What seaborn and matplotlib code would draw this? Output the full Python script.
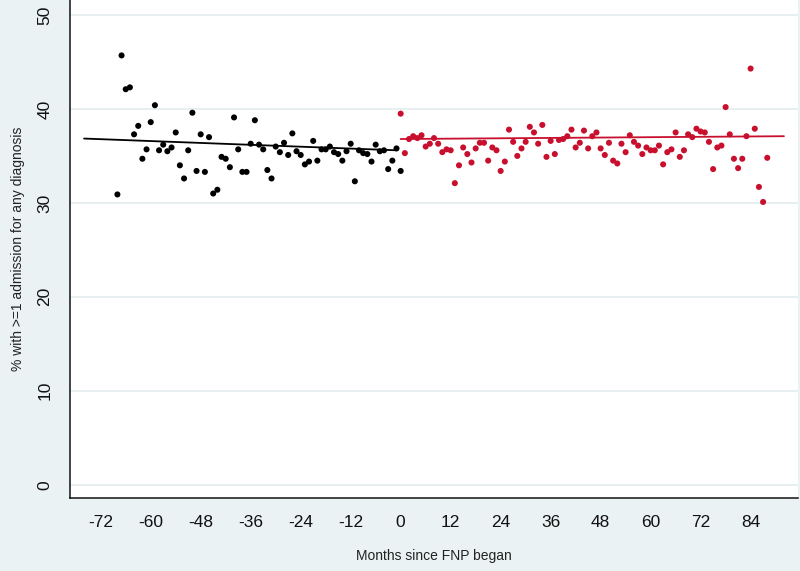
import numpy as np
import pandas as pd
import matplotlib
matplotlib.use("Agg")
import matplotlib.pyplot as plt
import seaborn as sns

# ── data ──────────────────────────────────────────────────────
pre_months = list(range(-68, 1))
pre_pct = [30.9, 45.7, 42.1, 42.3, 37.3, 38.2, 34.7, 35.7, 38.6, 40.4,
           35.6, 36.2, 35.5, 35.9, 37.5, 34.0, 32.6, 35.6, 39.6, 33.4,
           37.3, 33.3, 37.0, 31.0, 31.4, 34.9, 34.7, 33.8, 39.1, 35.7,
           33.3, 33.3, 36.3, 38.8, 36.2, 35.7, 33.5, 32.6, 36.0, 35.4,
           36.4, 35.1, 37.4, 35.5, 35.1, 34.1, 34.4, 36.6, 34.5, 35.7,
           35.7, 36.0, 35.4, 35.2, 34.5, 35.5, 36.3, 32.3, 35.6, 35.3,
           35.2, 34.4, 36.2, 35.5, 35.6, 33.6, 34.5, 35.8, 33.4]

post_months = list(range(0, 89))
post_pct = [39.5, 35.3, 36.8, 37.1, 36.9, 37.2, 36.0, 36.3, 36.9, 36.3,
            35.4, 35.7, 35.6, 32.1, 34.0, 35.9, 35.2, 34.3, 35.8, 36.4,
            36.4, 34.5, 35.9, 35.6, 33.4, 34.4, 37.8, 36.5, 35.0, 35.8,
            36.5, 38.1, 37.5, 36.3, 38.3, 34.9, 36.6, 35.2, 36.7, 36.8,
            37.1, 37.8, 35.9, 36.4, 37.7, 35.8, 37.1, 37.5, 35.8, 35.1,
            36.4, 34.5, 34.2, 36.3, 35.4, 37.2, 36.5, 36.1, 35.2, 35.9,
            35.6, 35.6, 36.1, 34.1, 35.4, 35.7, 37.5, 34.9, 35.6, 37.3,
            37.0, 37.9, 37.6, 37.5, 36.5, 33.6, 35.9, 36.1, 40.2, 37.3,
            34.7, 33.7, 34.7, 37.1, 44.3, 37.9, 31.7, 30.1, 34.8]

# model trend lines (segment ends)
pre_fit_months = [-76, -1]
pre_fit_pct = [36.85, 35.6]
post_fit_months = [0, 92]
post_fit_pct = [36.8, 37.1]

pre = pd.DataFrame({"month": pre_months, "pct": pre_pct})
post = pd.DataFrame({"month": post_months, "pct": post_pct})
pre_fit = pd.DataFrame({"month": pre_fit_months, "pct": pre_fit_pct})
post_fit = pd.DataFrame({"month": post_fit_months, "pct": post_fit_pct})

BG = "#EAF2F3"
GRID = "#E3ECEF"
RED = "#C8102E"

sns.set_style("white")
plt.rcParams["font.family"] = ["Liberation Sans", "DejaVu Sans"]
plt.rcParams["axes.unicode_minus"] = False

fig = plt.figure(figsize=(8, 5.71), dpi=100, facecolor=BG)
ax = fig.add_axes([0.0879, 0.1273, 0.9092, 0.8727])
ax.set_facecolor("white")

# grid lines
for yv in range(0, 51, 10):
    ax.axhline(yv, color=GRID, lw=1.2, zorder=0)

sns.scatterplot(data=pre, x="month", y="pct", color="black", s=19,
                edgecolor="none", ax=ax, zorder=3)
sns.scatterplot(data=post, x="month", y="pct", color=RED, s=19,
                edgecolor="none", ax=ax, zorder=3)

sns.lineplot(data=pre_fit, x="month", y="pct", color="black", lw=1.3,
             ax=ax, zorder=4)
sns.lineplot(data=post_fit, x="month", y="pct", color=RED, lw=1.3,
             ax=ax, zorder=4)

ax.set_xlim(-79.3, 95.3)
ax.set_ylim(-1.45, 51.6)
ax.set_xticks(range(-72, 85, 12))
ax.set_yticks(range(0, 51, 10))
ax.set_yticklabels([str(v) for v in range(0, 51, 10)], rotation=90, va="center")

ax.tick_params(axis="both", direction="out", length=6, width=1.1,
               color="#333333", labelsize=12.5, labelcolor="#111111", pad=6)
ax.tick_params(axis="y", pad=7)
for side in ["top", "right"]:
    ax.spines[side].set_visible(False)
for side in ["left", "bottom"]:
    ax.spines[side].set_color("#111111")
    ax.spines[side].set_linewidth(1.1)

ax.set_xlabel("Months since FNP began", fontsize=10, color="#222222", labelpad=14)
ax.set_ylabel("% with >=1 admission for any diagnosis", fontsize=10,
              color="#222222", labelpad=9)

fig.savefig("out.png", dpi=100, facecolor=BG)
